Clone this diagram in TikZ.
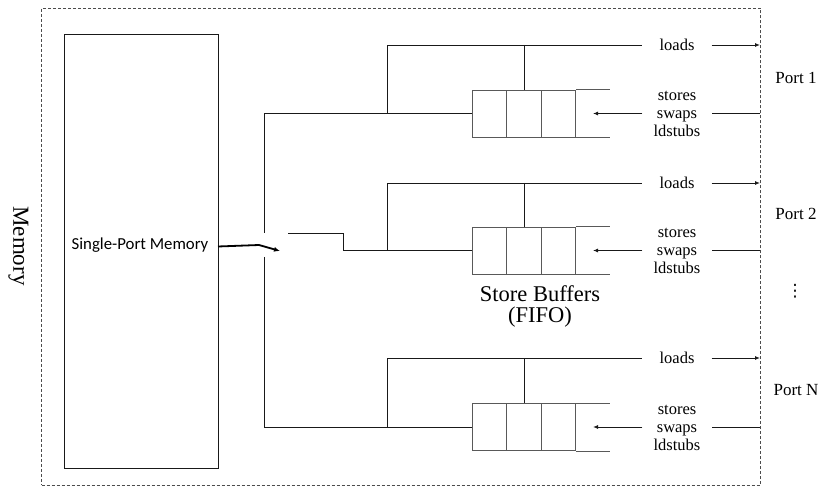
\documentclass[tikz,border=0pt]{standalone}
\usepackage{fontspec}
\setmainfont{Liberation Serif}
\newfontfamily\calibrifont{Carlito}
\newfontfamily\dejavufont{DejaVu Sans}
\usetikzlibrary{arrows.meta}
\begin{document}
\begin{tikzpicture}[x=1pt,y=-1pt,
  wire/.style={draw=black!90,line width=0.9pt},
  cellline/.style={draw=black!65,line width=0.9pt},
  cell/.style={cellline,minimum width=34.5pt,minimum height=47pt,inner sep=0pt},
  arr/.style={wire,-{Latex[length=5pt,width=4pt]}},
  lbl/.style={font=\fontsize{16.5}{18}\selectfont,align=center,inner sep=0pt,minimum width=69pt},
  portlbl/.style={font=\fontsize{17}{19}\selectfont,inner sep=0pt},
  border/.style={draw=black!70,line width=0.8pt,dash pattern=on 3pt off 2pt}]
\useasboundingbox (0,0) rectangle (822,486);
% outer dashed frame
\node[border,minimum width=718.5pt,minimum height=477pt,inner sep=0pt] (frame) at (400.75,246.5) {};
\node[rotate=-90,font=\fontsize{23}{25}\selectfont,inner sep=0pt] (memlbl) at (18.5,246) {Memory};
% single-port memory
\node[draw=black!90,line width=0.9pt,minimum width=154pt,minimum height=434pt,inner sep=0pt] (spm) at (141,251) {};
\node[font=\calibrifont\fontsize{16.8}{18}\selectfont,inner sep=0pt] (spmtxt) at (140,245) {Single-Port Memory};
% switch arrow
\coordinate (spmout) at (218,246.5);
\coordinate (knee) at (259,245);
\coordinate (tip) at (280,251);
\draw[draw=black,line width=1.8pt,-{Latex[length=6pt,width=5pt]}] (spmout) -- (knee) -- (tip);
% bus
\coordinate (bus1) at (264,113.5);
\coordinate (swtop) at (264,233);
\coordinate (swbot) at (264,257);
\coordinate (bus3) at (264,427);
\coordinate (ct1) at (288,233);
\coordinate (ct2) at (343,233);
\coordinate (ct3) at (343,250.5);
\draw[wire] (bus1) -- (swtop);
\draw[wire] (swbot) -- (bus3);
% groups
\foreach \g/\L/\M in {1/45/113.5, 2/183/250.5, 3/358/427} {
  \node[cell] (a\g) at (489.5,\M) {};
  \node[cell] (b\g) at (524,\M) {};
  \node[cell] (c\g) at (558.5,\M) {};
  \draw[cellline] (c\g.north east) -- ++(34,0);
  \draw[cellline] (c\g.south east) -- ++(34,0);
  \coordinate (j\g) at (387,\L);
  \coordinate (jm\g) at (387,\M);
  \coordinate (m\g) at (524,\L);
  \node[lbl] (ld\g) at (677,\L) {loads};
  \node[lbl] (st\g) at (677,\M+0.5) {stores\\swaps\\ldstubs};
  \coordinate (po\g) at (760,\L);
  \coordinate (pi\g) at (760,\M);
  \coordinate (fin\g) at (593,\M);
  \draw[wire] (jm\g) -- (j\g) -- (ld\g.west);
  \draw[arr] (ld\g.east) -- (po\g);
  \draw[wire] (m\g) -- (b\g.north);
  \draw[wire] (pi\g) -- (st\g.east |- pi\g);
  \draw[arr] (st\g.west |- fin\g) -- (fin\g);
}
\draw[wire] (bus1) -- (a1.west);
\draw[wire] (bus3) -- (a3.west);
\draw[wire] (ct1) -- (ct2) -- (ct3) -- (a2.west);
% store buffer label
\node[font=\fontsize{22.5}{21}\selectfont,align=center,inner sep=0pt] (sblbl) at (540,306) {Store Buffers\\(FIFO)};
% ports
\node[portlbl] (p1) at (796,78) {Port 1};
\node[portlbl] (p2) at (796,214) {Port 2};
\node[inner sep=0pt,font=\dejavufont\fontsize{17}{19}\selectfont] (pd) at (795,291) {⋮};
\node[portlbl] (pn) at (796,390) {Port N};
\end{tikzpicture}
\end{document}
